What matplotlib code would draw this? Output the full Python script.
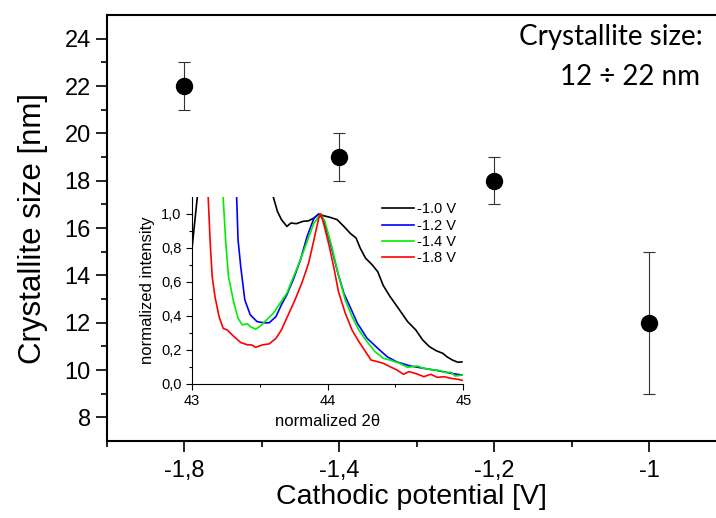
import matplotlib.pyplot as plt
import numpy as np

# main data: crystallite size vs cathodic potential
potential_labels = ["-1,8", "-1,4", "-1,2", "-1"]
size_nm = [22, 19, 18, 12]
size_err = [1, 1, 1, 3]

# inset: normalized XRD peaks
tt_10 = [43.0, 43.04, 43.05, 43.58, 43.6, 43.63, 43.66, 43.70, 43.73, 43.77, 43.82, 43.86, 43.90, 43.935,
         43.97, 44.02, 44.07, 44.12, 44.17, 44.21, 44.24, 44.28, 44.33, 44.37, 44.41, 44.46, 44.53,
         44.59, 44.65, 44.70, 44.75, 44.80, 44.85, 44.88, 44.92, 44.96, 44.99]
in_10 = [0.79, 1.1, 1.2, 1.2, 1.1, 1.016, 0.967, 0.927, 0.947, 0.943, 0.957, 0.96, 0.976, 1.0,
         0.99, 0.98, 0.967, 0.927, 0.884, 0.859, 0.80, 0.74, 0.70, 0.66, 0.58, 0.515, 0.436,
         0.367, 0.318, 0.26, 0.22, 0.196, 0.18, 0.16, 0.141, 0.128, 0.13]

tt_12 = [43.32, 43.33, 43.34, 43.36, 43.39, 43.43, 43.48, 43.53, 43.57, 43.62, 43.66, 43.70, 43.75,
         43.80, 43.85, 43.90, 43.935, 43.97, 44.02, 44.07, 44.12, 44.17, 44.22, 44.29, 44.37, 44.44,
         44.51, 44.61, 44.71, 44.81, 44.91, 44.99]
in_12 = [1.2, 1.1, 0.85, 0.69, 0.495, 0.407, 0.367, 0.36, 0.36, 0.397, 0.466, 0.525, 0.62,
         0.73, 0.87, 0.976, 1.0, 0.967, 0.83, 0.67, 0.534, 0.446, 0.357, 0.27, 0.21, 0.16,
         0.13, 0.106, 0.092, 0.079, 0.063, 0.053]

tt_14 = [43.22, 43.23, 43.25, 43.27, 43.31, 43.34, 43.37, 43.41, 43.43, 43.47, 43.50, 43.55, 43.60,
         43.65, 43.70, 43.75, 43.80, 43.85, 43.90, 43.95, 43.98, 44.03, 44.08, 44.13, 44.18, 44.23,
         44.29, 44.35, 44.41, 44.46, 44.53, 44.59, 44.66, 44.71, 44.78, 44.83, 44.87, 44.91, 44.94, 45.0]
in_14 = [1.2, 1.1, 0.83, 0.63, 0.475, 0.387, 0.348, 0.354, 0.338, 0.322, 0.338, 0.377, 0.416,
         0.475, 0.534, 0.633, 0.73, 0.84, 0.947, 1.0, 0.957, 0.81, 0.642, 0.495, 0.397, 0.318,
         0.25, 0.19, 0.151, 0.141, 0.122, 0.098, 0.106, 0.092, 0.083, 0.079, 0.067, 0.069, 0.047, 0.053]

tt_18 = [43.11, 43.12, 43.135, 43.15, 43.17, 43.20, 43.23, 43.26, 43.31, 43.36, 43.41, 43.44, 43.47,
         43.52, 43.57, 43.62, 43.66, 43.71, 43.76, 43.81, 43.86, 43.90, 43.935, 43.95, 43.97, 44.01,
         44.05, 44.08, 44.13, 44.18, 44.23, 44.28, 44.32, 44.37, 44.41, 44.46, 44.51, 44.56, 44.60,
         44.66, 44.71, 44.76, 44.81, 44.86, 44.91, 44.96, 45.0]
in_18 = [1.2, 1.1, 0.83, 0.63, 0.515, 0.397, 0.328, 0.318, 0.279, 0.244, 0.23, 0.23, 0.216,
         0.23, 0.236, 0.269, 0.318, 0.407, 0.495, 0.593, 0.71, 0.85, 0.976, 1.0, 0.947, 0.82,
         0.67, 0.544, 0.417, 0.318, 0.25, 0.19, 0.141, 0.131, 0.122, 0.102, 0.083, 0.057, 0.073,
         0.059, 0.043, 0.057, 0.039, 0.043, 0.033, 0.028, 0.02]

plt.rcParams['font.family'] = ['Liberation Sans', 'DejaVu Sans']

fig = plt.figure(figsize=(7.16, 5.18), dpi=100)
ax = fig.add_axes([0.1494, 0.1486, 0.8506, 0.8224])

x = np.arange(len(size_nm))
ax.errorbar(x, size_nm, yerr=size_err, fmt="o", color="black", markersize=11.5,
            ecolor="#333333", elinewidth=0.8, capsize=4, capthick=0.8)
ax.set_xlim(-0.5, 3.43)
ax.set_ylim(7, 25)
ax.set_xticks(x)
ax.set_xticklabels(potential_labels)
ax.set_xticks([-0.5] + list(x[:-1] + 0.5), minor=True)
ax.set_yticks(np.arange(8, 25, 2))
ax.set_yticks(np.arange(9, 25, 2), minor=True)
ax.tick_params(which="major", direction="out", length=8, width=1.2, labelsize=17)
ax.tick_params(which="minor", direction="out", length=4, width=1.2)
ax.tick_params(axis="x", pad=6)
ax.spines["right"].set_visible(False)
for s in ["left", "bottom", "top"]:
    ax.spines[s].set_linewidth(1.5)
ax.set_xlabel("Cathodic potential [V]", fontsize=20.5, labelpad=1)
ax.set_ylabel("Crystallite size [nm]", fontsize=22.5, labelpad=12)

fig.text(0.981, 0.928, "Crystallite size:", ha="right", va="center", fontsize=20, family="Lato")
fig.text(0.978, 0.851, "12 ÷ 22 nm", ha="right", va="center", fontsize=20, family="Lato")

# inset
ins = fig.add_axes([0.268, 0.2587, 0.379, 0.361])
ins.plot(tt_10, in_10, color="black", lw=1.2, label="-1.0 V")
ins.plot(tt_12, in_12, color="#0000ff", lw=1.2, label="-1.2 V")
ins.plot(tt_14, in_14, color="#00ee00", lw=1.2, label="-1.4 V")
ins.plot(tt_18, in_18, color="#ff0000", lw=1.2, label="-1.8 V")
ins.set_xlim(43, 45)
ins.set_ylim(0, 1.1)
ins.set_xticks([43, 44, 45])
ins.set_xticks([43.5, 44.5], minor=True)
ins.set_yticks(np.arange(0, 1.01, 0.2))
ins.set_yticklabels(["0,0", "0,2", "0,4", "0,6", "0,8", "1,0"])
ins.set_yticks(np.arange(0.1, 1.1, 0.2), minor=True)
ins.tick_params(which="major", direction="out", length=4, width=0.8, labelsize=10.5)
ins.tick_params(which="minor", direction="out", length=2, width=0.8)
ins.spines["right"].set_visible(False)
ins.spines["top"].set_visible(False)
ins.set_xlabel("normalized 2θ", fontsize=12)
ins.set_ylabel("normalized intensity", fontsize=12,
               family=["Liberation Sans Narrow", "Liberation Sans"])
ins.legend(loc="upper right", frameon=False, fontsize=10.5, handlelength=2.2,
           handletextpad=0.2, labelspacing=0.15, borderaxespad=0.1, bbox_to_anchor=(1.0, 1.01))

fig.savefig("out.png", dpi=100)
